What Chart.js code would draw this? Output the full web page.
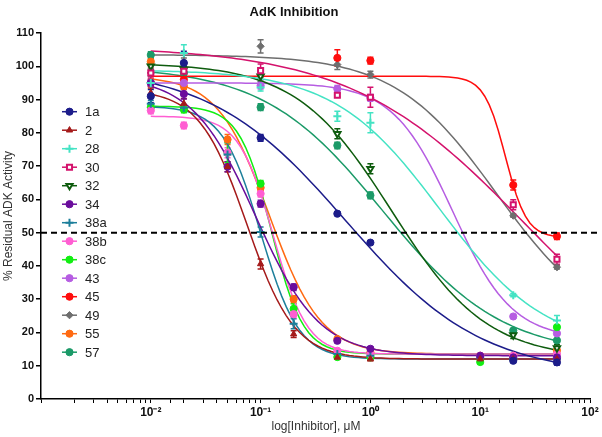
<!DOCTYPE html>
<html>
<head>
<meta charset="utf-8">
<script src="https://cdn.jsdelivr.net/npm/chart.js@4.4.1/dist/chart.umd.min.js"></script>
<style>
  html, body { margin: 0; background: #fff; }
  #wrap { width: 602px; height: 437px; }
</style>
</head>
<body>
<div id="wrap"><canvas id="myChart" width="602" height="437"></canvas></div>
<script>
// inhibitor concentrations (uM)
const conc = [0.01, 0.02, 0.05, 0.1, 0.2, 0.5, 1, 10, 20, 50];

const names = ['1a', '2', '28', '30', '32', '34', '38a', '38b', '38c', '43', '45', '49', '55', '57'];
const colors = ['#1c1c8a', '#a51a1a', '#44e3c4', '#d4126c', '#0e5c0e', '#6a0d9c', '#1d7f9b', '#ff5ed2',
                '#12ee12', '#b65de2', '#ff0d0d', '#6e6e6e', '#ff6a12', '#1b9a68'];
const markers = ['circle', 'triangle', 'cross', 'rect', 'triangle', 'circle', 'cross', 'circle',
                 'circle', 'circle', 'circle', 'rectRot', 'circle', 'circle'];

// % residual ADK activity, mean and error per concentration (null = not measured)
const y1a  = [91, 101, null, 78.5, null, 55.7, 47, null, 11.5, 11];
const e1a  = [2, 3.5, null, 1, null, 0.5, 0.5, null, 0.5, 0.8];
const y2   = [92, 88.8, 69.8, 40.6, 19.5, 12.5, 12, 12, 12, 12];
const e2   = [1.5, 1.5, 1.5, 1.5, 1, 0.5, 0.5, 0.5, 0.5, 0.5];
const y28  = [95, 104, null, 93.6, null, 85, 83, null, 31.2, 23.6];
const e28  = [1, 2.5, null, 1, null, 1.5, 3, null, 0.5, 1.5];
const y30  = [98, 98.5, null, 98.7, null, 91.3, 90.7, null, 58.4, 42];
const e30  = [1.5, 1.5, null, 2, null, 0.5, 3, null, 1.5, 1.5];
const y32  = [100, 99, null, 97, null, 79.7, 69.2, null, 19.2, 15.3];
const e32  = [1, 1, null, 1.5, null, 1.5, 1.5, null, 1, 1];
const y34  = [95, 91.7, 69.8, 58.7, 33.6, 17.5, 15.1, 13, 12.5, 12.5];
const e34  = [1, 1.5, 1.5, 1, 1, 0.5, 0.5, 0.5, 0.5, 0.5];
const y38a = [88.7, 87.5, 73.5, 50.2, 22.6, 13.5, 13, 12.5, 12, 12];
const e38a = [1, 1, 3.5, 1.5, 1.5, 0.5, 0.5, 0.5, 0.5, 0.5];
const y38b = [86.7, 82.2, 74, 61.7, 25.5, 14.5, 13.5, 13, 13, 13.5];
const e38b = [1, 1, 1.5, 1, 1, 0.5, 0.5, 0.5, 0.5, 0.5];
const y38c = [87.7, 87, 74, 64.7, 27.1, 12.6, 12.5, 11.1, 12, 21.6];
const e38c = [1, 1, 3, 1, 1.5, 0.5, 0.5, 0.5, 0.5, 0.5];
const y43  = [95, 95, null, 94.2, null, 93.2, 90.5, null, 24.8, 19.7];
const e43  = [1, 1, null, 1, null, 1, 1, null, 0.5, 0.5];
const y45  = [95, 96, null, null, null, 102.5, 101.7, null, 64.3, 48.9];
const e45  = [1, 1, null, null, null, 2.5, 1, null, 1.5, 1];
const y49  = [98, 101, null, 106, null, 100.5, 97.5, null, 55.1, 39.6];
const e49  = [1, 1.5, null, 2, null, 1.5, 1, null, 0.5, 0.5];
const y55  = [101.4, 94, 78, 63.5, 30, 18, 14, 13, 13, 14.6];
const e55  = [1, 1, 1.5, 1, 1, 0.5, 0.5, 0.5, 0.5, 0.5];
const y57  = [103.4, 98, null, 87.7, null, 76.2, 61.2, null, 20.6, 17.6];
const e57  = [1, 1, null, 1, null, 1, 1, null, 0.5, 0.5];

const means = [y1a, y2, y28, y30, y32, y34, y38a, y38b, y38c, y43, y45, y49, y55, y57];
const errs  = [e1a, e2, e28, e30, e32, e34, e38a, e38b, e38c, e43, e45, e49, e55, e57];

// 4-parameter logistic fits
const fitTop    = [100, 93, 99, 106, 101, 97, 88, 85, 88, 95, 97, 103.5, 97, 100];
const fitBottom = [7, 12, 15, 0, 12, 13, 12, 13.5, 13.5, 18, 48.5, 20, 13.5, 13];
const fitIC50   = [0.6, 0.075, 4.3, 25, 1.565, 0.09, 0.1, 0.13, 0.125, 5.6, 17, 14.1, 0.12, 1.3];
const fitHill   = [0.7, 2, 0.9, 0.55, 1, 1.5, 2.5, 2.8, 3, 1.6, 4.5, 0.94, 1.85, 0.8];

const yTicks = [0, 10, 20, 30, 40, 50, 60, 70, 80, 90, 100, 110];
const cutoff = 50;

function fitCurve(i) {
  const pts = [];
  const a = Math.log10(0.01), b = Math.log10(50), n = 90;
  for (let k = 0; k <= n; k++) {
    const x = Math.pow(10, a + (b - a) * k / n);
    const y = fitBottom[i] + (fitTop[i] - fitBottom[i]) / (1 + Math.pow(x / fitIC50[i], fitHill[i]));
    pts.push({x: x, y: y});
  }
  return pts;
}

const hollow = [3, 4];
const datasets = [];
names.forEach((nm, i) => {
  const pts = [], er = [];
  conc.forEach((c, j) => {
    if (means[i][j] != null) { pts.push({x: c, y: means[i][j]}); er.push(errs[i][j]); }
  });
  datasets.push({
    label: nm, data: pts, errors: er, order: 0,
    pointStyle: markers[i],
    rotation: i === 4 ? 180 : 0,
    pointRadius: markers[i] === 'cross' ? 4 : 3.6,
    borderColor: colors[i],
    backgroundColor: hollow.includes(i) ? '#fff' : colors[i],
    borderWidth: hollow.includes(i) || markers[i] === 'cross' ? 2 : 1,
    showLine: false
  });
  datasets.push({
    label: nm + ' fit', data: fitCurve(i), order: 1,
    showLine: true, pointRadius: 0, borderColor: colors[i], borderWidth: 1.5, tension: 0
  });
});

const supers = {'-': '\u207B', '0': '\u2070', '1': '\u00B9', '2': '\u00B2', '3': '\u00B3'};

const errorBars = {
  id: 'errorBars',
  beforeDatasetsDraw(chart) {
    const {ctx, scales: {x, y}} = chart;
    chart.data.datasets.forEach(ds => {
      if (!ds.errors) return;
      ctx.save();
      ctx.strokeStyle = ds.borderColor;
      ctx.lineWidth = 1.5;
      ds.data.forEach((p, j) => {
        const e = ds.errors[j];
        if (!e) return;
        const px = x.getPixelForValue(p.x);
        const t = y.getPixelForValue(p.y + e), b = y.getPixelForValue(p.y - e);
        ctx.beginPath();
        ctx.moveTo(px, t); ctx.lineTo(px, b);
        ctx.moveTo(px - 3, t); ctx.lineTo(px + 3, t);
        ctx.moveTo(px - 3, b); ctx.lineTo(px + 3, b);
        ctx.stroke();
      });
      ctx.restore();
    });
  }
};

const extras = {
  id: 'extras',
  afterDraw(chart) {
    const {ctx, chartArea, scales: {y}} = chart;
    ctx.save();
    // 50% line
    const py = y.getPixelForValue(cutoff);
    ctx.strokeStyle = '#000';
    ctx.lineWidth = 2;
    ctx.setLineDash([6, 4]);
    ctx.beginPath();
    ctx.moveTo(chartArea.left, py);
    ctx.lineTo(597, py);
    ctx.stroke();
    ctx.setLineDash([]);

    // titles
    ctx.fillStyle = '#111';
    ctx.textAlign = 'center';
    ctx.textBaseline = 'middle';
    ctx.font = 'bold 13px "Liberation Sans", Arial, sans-serif';
    ctx.fillText('AdK Inhibition', 294, 12);
    ctx.fillStyle = '#333';
    ctx.font = '12px "Liberation Sans", Arial, sans-serif';
    ctx.fillText('log[Inhibitor], \u03BCM', 316, 427);
    ctx.save();
    ctx.translate(9, (chartArea.top + chartArea.bottom) / 2);
    ctx.rotate(-Math.PI / 2);
    ctx.fillText('% Residual ADK Activity', 0, 0);
    ctx.restore();

    // legend
    ctx.textAlign = 'left';
    ctx.font = '13px "Liberation Sans", Arial, sans-serif';
    names.forEach((nm, i) => {
      const ly = 111.7 + i * 18.5;
      const ds = chart.data.datasets[i * 2];
      ctx.strokeStyle = colors[i];
      ctx.lineWidth = 1.5;
      ctx.beginPath(); ctx.moveTo(62, ly); ctx.lineTo(77, ly); ctx.stroke();
      ctx.fillStyle = ds.backgroundColor;
      ctx.strokeStyle = colors[i];
      ctx.lineWidth = ds.borderWidth;
      if (Chart.helpers && Chart.helpers.drawPoint) {
        Chart.helpers.drawPoint(ctx, {pointStyle: ds.pointStyle, rotation: ds.rotation,
          radius: ds.pointRadius, borderWidth: ds.borderWidth}, 69.5, ly);
      } else {
        ctx.beginPath(); ctx.arc(69.5, ly, 3.5, 0, Math.PI * 2); ctx.fill(); ctx.stroke();
      }
      ctx.fillStyle = '#222';
      ctx.fillText(nm, 85, ly + 1);
    });
    ctx.restore();
  }
};

new Chart(document.getElementById('myChart'), {
  type: 'scatter',
  data: { datasets: datasets },
  options: {
    responsive: false,
    animation: false,
    devicePixelRatio: 1,
    layout: { padding: { top: 33, right: 12, left: 0, bottom: 0 } },
    plugins: { legend: { display: false }, tooltip: { enabled: false }, title: { display: false } },
    scales: {
      x: {
        type: 'logarithmic', min: 0.001, max: 100,
        afterFit: s => { s.height = 38; },
        border: { color: '#000', width: 1.5 },
        grid: { drawOnChartArea: false, drawTicks: true, tickLength: 4, color: '#000', lineWidth: 1 },
        ticks: {
          autoSkip: false, maxRotation: 0, padding: 2, color: '#111',
          font: { family: '"Liberation Sans", Arial, sans-serif', size: 12, weight: 'bold' },
          callback: v => {
            const l = Math.log10(v), r = Math.round(l);
            if (Math.abs(l - r) > 1e-6 || r === -3) return '';
            return '10' + String(r).split('').map(ch => supers[ch]).join('');
          }
        }
      },
      y: {
        min: 0, max: 110,
        afterFit: s => { s.width = 41; },
        afterBuildTicks: s => { s.ticks = yTicks.map(v => ({value: v})); },
        border: { color: '#000', width: 1.5 },
        grid: { drawOnChartArea: false, drawTicks: true, tickLength: 5, color: '#000', lineWidth: 1.5 },
        ticks: {
          padding: 2, color: '#111',
          font: { family: '"Liberation Sans", Arial, sans-serif', size: 11, weight: 'bold' }
        }
      }
    }
  },
  plugins: [errorBars, extras]
});
</script>
</body>
</html>
